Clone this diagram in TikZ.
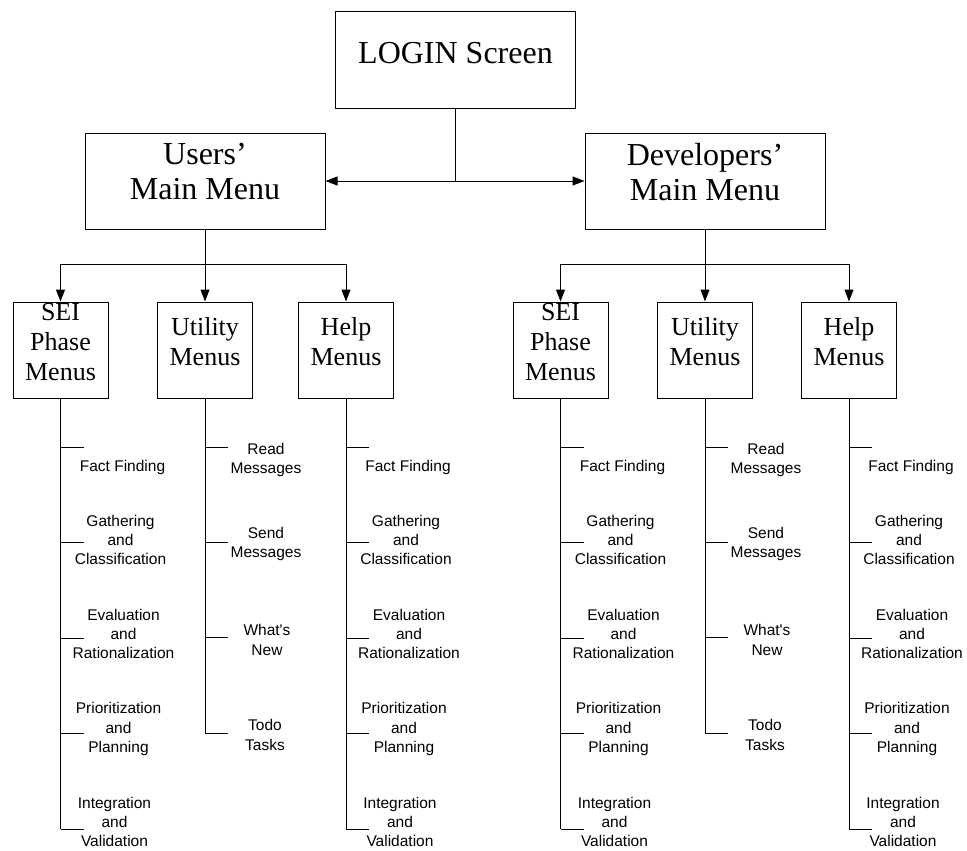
\documentclass[tikz,border=0pt]{standalone}
\usepackage{fontspec}
\setmainfont{Liberation Serif}
\newfontfamily\listfont{Liberation Sans}
\usetikzlibrary{arrows.meta}
\def \tk{23}

\begin{document}
\begin{tikzpicture}[x=1pt, y=-1pt, line width=1pt,
    >={Triangle[length=12pt,width=9pt]},
    mainbox/.style={draw, minimum width=240pt, minimum height=96pt, inner sep=0pt},
    subbox/.style={draw, minimum width=95pt, minimum height=96pt, inner sep=0pt},
    boxtext/.style={font=\fontsize{32}{35}\selectfont, align=center, inner sep=0pt},
    subtext/.style={font=\fontsize{26}{30}\selectfont, align=center, inner sep=0pt},
    item/.style={font=\listfont\fontsize{15.5}{19.3}\selectfont, align=center, inner sep=0pt}]
    \useasboundingbox (0,0) rectangle (967,851);

    % top level
    \node[mainbox] (login) at (455.5,60) {};
    \node[boxtext] (login-t) at ([yshift=7pt]login.center) {LOGIN Screen};
    \node[mainbox] (users) at (205,181) {};
    \node[boxtext] (users-t) at ([yshift=9pt]users.center) {Users'\\Main Menu};
    \node[mainbox] (devs) at (705,181) {};
    \node[boxtext] (devs-t) at ([yshift=9pt]devs.center) {Developers'\\Main Menu};
    \draw (login.south) -- (login.south |- users.east);
    \draw[<->] (users.east) -- (devs.west);

    % second level
    \coordinate (bar) at (0,264);
    \foreach \m/\x in {usei/60.5, uutil/205, uhelp/346, dsei/560.5, dutil/705, dhelp/849}
        \node[subbox] (\m) at (\x,350) {};
    \foreach \m in {usei, dsei}
        \node[subtext] (\m-t) at ([yshift=8pt]\m.center) {SEI\\Phase\\Menus};
    \foreach \m in {uutil, dutil}
        \node[subtext] (\m-t) at ([yshift=8pt]\m.center) {Utility\\Menus};
    \foreach \m in {uhelp, dhelp}
        \node[subtext] (\m-t) at ([yshift=8pt]\m.center) {Help\\Menus};

    \draw[->] (users.south) -- (users.south |- bar) -| (usei.north);
    \draw[->] (users.south) -- (users.south |- bar) -| (uhelp.north);
    \draw[->] (users.south) -- (uutil.north);
    \draw[->] (devs.south) -- (devs.south |- bar) -| (dsei.north);
    \draw[->] (devs.south) -- (devs.south |- bar) -| (dhelp.north);
    \draw[->] (devs.south) -- (dutil.north);

    % phase and help lists
    \foreach \m/\x in {usei/60.5, uhelp/346, dsei/560.5, dhelp/849} {
        \coordinate (\m-end) at (\x,829);
        \draw (\m.south) -- (\m-end);
        \foreach \y/\dx/\dy/\lbl [count=\i] in {447/62/20/{Fact Finding},
                542/60/-2/{Gathering\\and\\Classification},
                638/63/-4/{Evaluation\\and\\Rationalization},
                733/58/-4/{Prioritization\\and\\Planning},
                829/54/-7/{Integration\\and\\Validation}} {
            \coordinate (\m-\i) at (\x,\y);
            \coordinate (\m-\i e) at (\x+\tk,\y);
            \draw (\m-\i) -- (\m-\i e);
            \node[item] (\m-l\i) at (\x+\dx,\y+\dy) {\lbl};
        }
    }

    % utility lists
    \foreach \m/\x in {uutil/205, dutil/705} {
        \coordinate (\m-end) at (\x,733);
        \draw (\m.south) -- (\m-end);
        \foreach \y/\dx/\dy/\lbl [count=\i] in {447/61/13/{Read\\Messages},
                542/61/2/{Send\\Messages},
                637/62/3/{What's\\New},
                733/60/2/{Todo\\Tasks}} {
            \coordinate (\m-\i) at (\x,\y);
            \coordinate (\m-\i e) at (\x+\tk,\y);
            \draw (\m-\i) -- (\m-\i e);
            \node[item] (\m-l\i) at (\x+\dx,\y+\dy) {\lbl};
        }
    }
\end{tikzpicture}
\end{document}
